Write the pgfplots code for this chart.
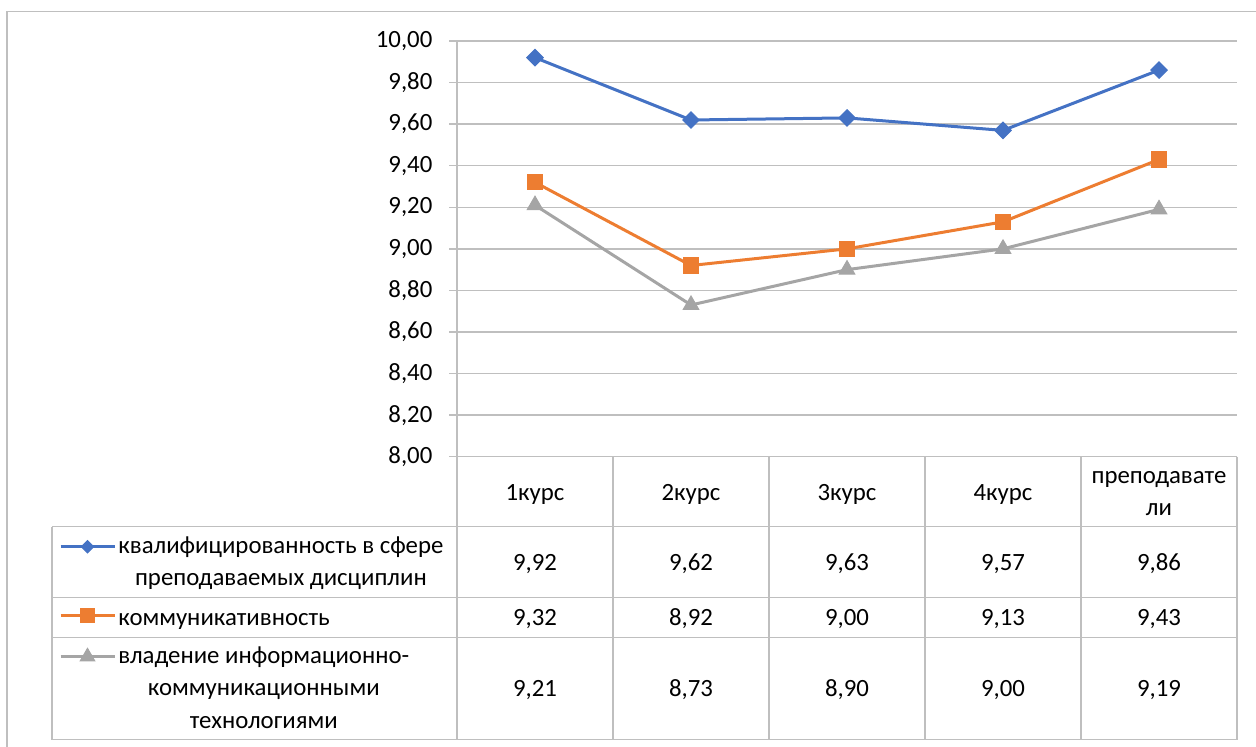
\documentclass[border=0pt]{standalone}
\usepackage{fontspec}
\setmainfont{Carlito}
\usepackage{pgfplots}
\pgfplotsset{compat=1.18}
\definecolor{s1}{HTML}{4472C4}
\definecolor{s2}{HTML}{ED7D31}
\definecolor{s3}{HTML}{A5A5A5}
\definecolor{gridc}{HTML}{BFBFBF}
\pgfplotsset{
  legbox/.style={hide axis, scale only axis, width=10pt, height=10pt,
    xmin=0, xmax=1, ymin=0, ymax=1, anchor=south west,
    legend image code/.code={\draw[mark repeat=2,mark phase=2,##1] plot coordinates {(0pt,0pt) (13.5pt,0pt) (27pt,0pt)};},
    legend style={at={(0,0)}, anchor=west, draw=none, fill=none,
      inner sep=0pt, outer sep=0pt, column sep=0pt,
      nodes={inner sep=0pt, outer sep=0pt}}},
}
\begin{document}
\fontsize{12.4}{16.25}\selectfont
\begin{tikzpicture}
\path[use as bounding box] (0pt,0pt) rectangle (628pt,-373pt);
\begin{scope}[x=0.5pt,y=-0.5pt]
\draw[gridc, line width=0.75pt] (7,11.7) rectangle (1300,800);
\end{scope}
\begin{axis}[
  at={(228.5pt,-228.35pt)}, anchor=south west,
  scale only axis, width=390pt, height=207.85pt,
  xmin=-0.5, xmax=4.5, ymin=8, ymax=10,
  clip=false,
  xtick=\empty,
  ytick={8,8.2,8.4,8.6,8.8,9,9.2,9.4,9.6,9.8,10},
  ytick pos=left,
  tick align=outside,
  major tick length=4pt,
  major tick style={gridc, line width=0.75pt},
  axis line style={draw=none},
  ymajorgrids,
  grid style={gridc, line width=0.75pt},
  yticklabel style={xshift=-4pt, /pgf/number format/.cd, fixed, fixed zerofill, precision=2, use comma, assume math mode=true},
]
\addplot[s1, line width=1.5pt, mark=square*, mark size=2.9pt, mark options={rotate=45, solid, line width=0.5pt}]
  coordinates {(0,9.92) (1,9.62) (2,9.63) (3,9.57) (4,9.86)};
\addplot[s2, line width=1.5pt, mark=square*, mark size=3.8pt, mark options={solid, line width=0.5pt}]
  coordinates {(0,9.32) (1,8.92) (2,9.00) (3,9.13) (4,9.43)};
\addplot[s3, line width=1.5pt, mark=triangle*, mark size=4.5pt, mark options={solid, line width=0.5pt}]
  coordinates {(0,9.21) (1,8.73) (2,8.90) (3,9.00) (4,9.19)};
\end{axis}
% legend keys of the data table
\begin{axis}[legbox, at={(29.5pt,-273.35pt)}]
\addlegendimage{s1, line width=1.5pt, mark=square*, mark size=2.2pt, mark options={rotate=45, solid, line width=0.5pt}}
\addlegendentry{}
\end{axis}
\begin{axis}[legbox, at={(29.5pt,-307.85pt)}]
\addlegendimage{s2, line width=1.5pt, mark=square*, mark size=3.5pt, mark options={solid, line width=0.5pt}}
\addlegendentry{}
\end{axis}
\begin{axis}[legbox, at={(29.5pt,-327.3pt)}]
\addlegendimage{s3, line width=1.5pt, mark=triangle*, mark size=4.2pt, mark options={solid, line width=0.5pt}}
\addlegendentry{}
\end{axis}
\begin{scope}[x=0.5pt,y=-0.5pt]
\begin{scope}[gridc, line width=0.75pt]
\draw (457,41) -- (457,739.5);
\foreach \x in {613,769,925,1081,1237} \draw (\x,456.7) -- (\x,739.5);
\draw (52,526.7) -- (52,739.5);
\draw (457,456.7) -- (1237,456.7);
\foreach \y in {526.7,597.5,637.3,739.5} \draw (52,\y) -- (1237,\y);
\end{scope}
\node[anchor=base west, inner sep=0pt] at (118,553) {\begin{tabular}[t]{@{}c@{}}квалифицированность в сфере\\преподаваемых дисциплин\end{tabular}};
\node[anchor=base west, inner sep=0pt] at (118,625) {коммуникативность};
\node[anchor=base west, inner sep=0pt] at (118,663) {\begin{tabular}[t]{@{}c@{}}владение информационно-\\коммуникационными\\технологиями\end{tabular}};
\foreach \x/\t in {535/1курс, 691/2курс, 847/3курс, 1003/4курс}
  \node[anchor=base, inner sep=0pt] at (\x,500) {\t};
\node[anchor=base, inner sep=0pt] at (1159,483) {\begin{tabular}[t]{@{}c@{}}преподавате\\ли\end{tabular}};
\foreach \x/\t in {535/{9,92}, 691/{9,62}, 847/{9,63}, 1003/{9,57}, 1159/{9,86}}
  \node[anchor=base, inner sep=0pt] at (\x,570.7) {\t};
\foreach \x/\t in {535/{9,32}, 691/{8,92}, 847/{9,00}, 1003/{9,13}, 1159/{9,43}}
  \node[anchor=base, inner sep=0pt] at (\x,625) {\t};
\foreach \x/\t in {535/{9,21}, 691/{8,73}, 847/{8,90}, 1003/{9,00}, 1159/{9,19}}
  \node[anchor=base, inner sep=0pt] at (\x,696.5) {\t};
\end{scope}
\end{tikzpicture}
\end{document}
